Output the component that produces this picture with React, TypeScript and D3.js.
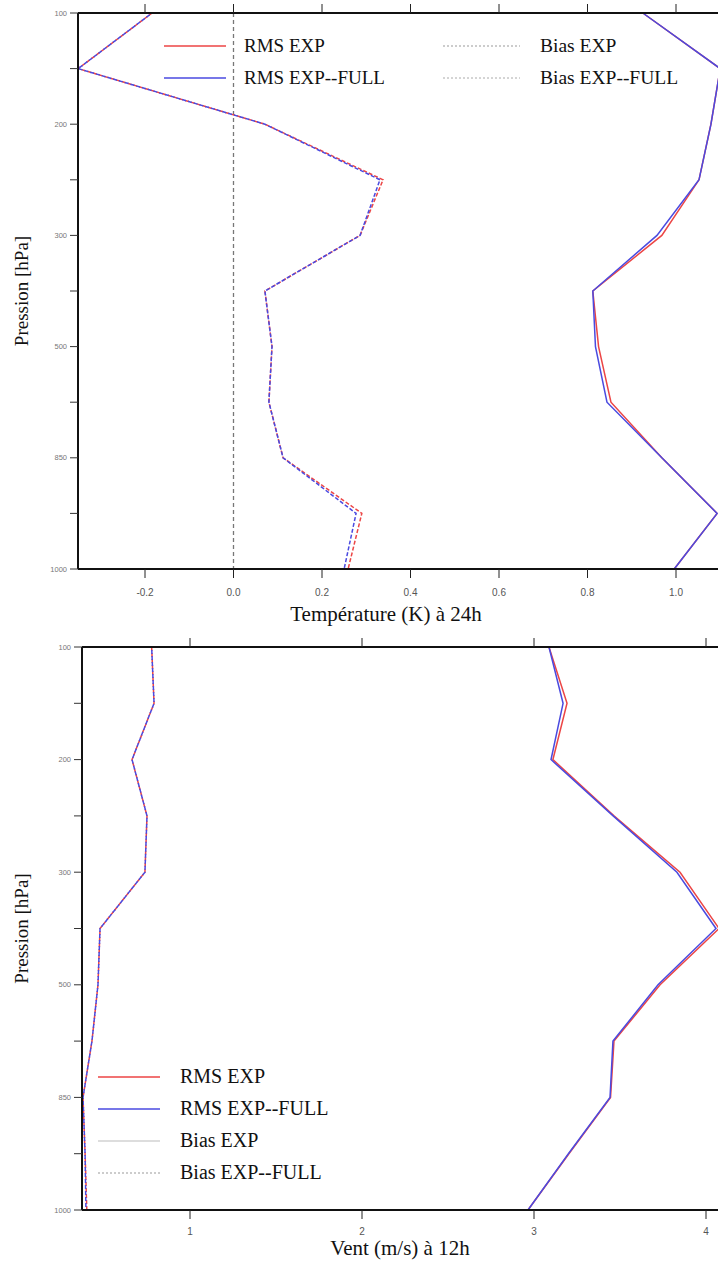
import React from "react";
import * as d3 from "d3";

const levels = [100, 150, 200, 250, 300, 400, 500, 700, 850, 925, 1000];
const levelLabels = ["100", "", "200", "", "300", "", "500", "", "850", "", "1000"];

// Temperature (K) at 24h
const tBiasExp = [-0.184, -0.351, 0.071, 0.338, 0.286, 0.071, 0.087, 0.08, 0.112, 0.29, 0.259];
const tBiasFull = [-0.184, -0.351, 0.071, 0.331, 0.286, 0.071, 0.087, 0.08, 0.112, 0.277, 0.25];
const tRmsExp = [0.925, 1.1, 1.079, 1.052, 0.968, 0.812, 0.825, 0.853, 0.968, 1.093, 0.996];
const tRmsFull = [0.925, 1.1, 1.079, 1.052, 0.957, 0.812, 0.818, 0.844, 0.968, 1.093, 0.996];
const tTicks = [-0.2, 0.0, 0.2, 0.4, 0.6, 0.8, 1.0];

// Wind (m/s) at 12h
const wBiasExp = [0.777, 0.791, 0.663, 0.75, 0.738, 0.477, 0.465, 0.43, 0.378, 0.39, 0.4];
const wBiasFull = [0.777, 0.791, 0.663, 0.75, 0.738, 0.477, 0.465, 0.43, 0.378, 0.39, 0.395];
const wRmsExp = [3.087, 3.192, 3.11, 3.465, 3.849, 4.076, 3.733, 3.465, 3.445, 3.203, 2.965];
const wRmsFull = [3.087, 3.169, 3.099, 3.46, 3.831, 4.058, 3.721, 3.459, 3.442, 3.2, 2.965];
const wTicks = [1, 2, 3, 4];

const RED = "#ec4545";
const BLUE = "#4a4ae0";
const SERIF = "'Liberation Serif', 'Times New Roman', serif";
const SANS = "'Liberation Sans', Arial, sans-serif";

type PanelProps = {
  top: number;
  bottom: number;
  left: number;
  right: number;
  xDomain: [number, number];
  xRange: [number, number];
  ticks: number[];
  tickFmt: (v: number) => string;
  biasExp: number[];
  biasFull: number[];
  rmsExp: number[];
  rmsFull: number[];
  xTitle: string;
  xTitleX: number;
  xTitleDy: number;
  tickDy: number;
  zeroLine: boolean;
  legend: React.ReactNode;
};

function Panel(p: PanelProps) {
  const x = d3.scaleLinear().domain(p.xDomain).range(p.xRange);
  const y = d3.scalePoint<number>().domain(levels).range([p.top, p.bottom]);
  const line = (vals: number[]) =>
    d3.line<number>().x((v) => x(v)).y((_, i) => y(levels[i]) as number)(vals) || "";
  const clipId = `clip${p.top}`;
  return (
    <g>
      <defs>
        <clipPath id={clipId}>
          <rect x={p.left} y={p.top - 2} width={p.right - p.left + 20} height={p.bottom - p.top + 4} />
        </clipPath>
      </defs>
      {p.zeroLine && (
        <line x1={x(0)} x2={x(0)} y1={p.top} y2={p.bottom} stroke="#777" strokeWidth={1.3} strokeDasharray="4,3" />
      )}
      <g clipPath={`url(#${clipId})`} fill="none" strokeWidth={1.5}>
        <path d={line(p.biasExp)} stroke={RED} strokeDasharray="4,2" />
        <path d={line(p.biasFull)} stroke={BLUE} strokeDasharray="4,2" strokeDashoffset={3} />
        <path d={line(p.rmsExp)} stroke={RED} />
        <path d={line(p.rmsFull)} stroke={BLUE} />
      </g>
      {/* frame */}
      <line x1={p.left} x2={p.right} y1={p.top} y2={p.top} stroke="#111" strokeWidth={2} />
      <line x1={p.left} x2={p.right} y1={p.bottom} y2={p.bottom} stroke="#111" strokeWidth={2} />
      <line x1={p.left} x2={p.left} y1={p.top} y2={p.bottom} stroke="#111" strokeWidth={2} />
      {/* x ticks */}
      {p.ticks.map((t) => (
        <g key={t}>
          <line x1={x(t)} x2={x(t)} y1={p.top} y2={p.top - 9} stroke="#222" strokeWidth={1} />
          <line x1={x(t)} x2={x(t)} y1={p.bottom} y2={p.bottom + 9} stroke="#222" strokeWidth={1} />
          <text x={x(t)} y={p.bottom + p.tickDy} textAnchor="middle" fontFamily={SANS} fontSize={10} fill="#555">
            {p.tickFmt(t)}
          </text>
        </g>
      ))}
      {/* y ticks */}
      {levels.map((l, i) => (
        <g key={l}>
          <line x1={p.left} x2={p.left - 8} y1={y(l)} y2={y(l)} stroke="#333" strokeWidth={1} />
          {levelLabels[i] && (
            <text x={p.left - 11} y={(y(l) as number) + 2.5} textAnchor="end" fontFamily={SANS} fontSize={7.5} fill="#777">
              {levelLabels[i]}
            </text>
          )}
        </g>
      ))}
      <text
        transform={`translate(28,${(p.top + p.bottom) / 2}) rotate(-90)`}
        textAnchor="middle"
        fontFamily={SERIF}
        fontSize={19}
        fill="#111"
      >
        Pression [hPa]
      </text>
      <text x={p.xTitleX} y={p.bottom + p.xTitleDy} textAnchor="middle" fontFamily={SERIF} fontSize={21} fill="#111">
        {p.xTitle}
      </text>
      {p.legend}
    </g>
  );
}

function LegendItem(props: { x1: number; x2: number; tx: number; y: number; stroke: string; dash?: string; label: string; w?: number; fs?: number }) {
  return (
    <g>
      <line x1={props.x1} x2={props.x2} y1={props.y} y2={props.y} stroke={props.stroke} strokeWidth={props.w ?? 1.3} strokeDasharray={props.dash} />
      <text x={props.tx} y={props.y + 6} fontFamily={SERIF} fontSize={props.fs ?? 20} fill="#111">
        {props.label}
      </text>
    </g>
  );
}

export default function App() {
  const topLegend = (
    <g>
      <LegendItem x1={164} x2={226} tx={244} y={46} stroke={RED} label="RMS EXP" fs={19} />
      <LegendItem x1={164} x2={226} tx={244} y={78} stroke={BLUE} label="RMS EXP--FULL" fs={19} />
      <LegendItem x1={443} x2={520} tx={540} y={46} stroke="#999" dash="2,2" w={1} label="Bias EXP" fs={19.5} />
      <LegendItem x1={443} x2={520} tx={540} y={78} stroke="#aaa" dash="2,2" w={1} label="Bias EXP--FULL" fs={19.5} />
    </g>
  );
  const botLegend = (
    <g>
      <LegendItem x1={98} x2={160} tx={180} y={1077} stroke={RED} label="RMS EXP" />
      <LegendItem x1={98} x2={160} tx={180} y={1109} stroke={BLUE} label="RMS EXP--FULL" />
      <LegendItem x1={98} x2={160} tx={180} y={1141} stroke="#bbb" w={1} label="Bias EXP" />
      <LegendItem x1={98} x2={160} tx={180} y={1173} stroke="#999" dash="2,2" w={1} label="Bias EXP--FULL" />
    </g>
  );
  return (
    <svg width={718} height={1261} style={{ position: "absolute", left: 0, top: 0, background: "#fff" }}>
      <rect width={718} height={1261} fill="#fff" />
      <Panel
        top={13}
        bottom={569}
        left={78}
        right={722}
        xDomain={[-0.2, 1.0]}
        xRange={[145, 676]}
        ticks={tTicks}
        tickFmt={(v) => d3.format(".1f")(v).replace("−", "-")}
        biasExp={tBiasExp}
        biasFull={tBiasFull}
        rmsExp={tRmsExp}
        rmsFull={tRmsFull}
        xTitle="Température (K) à 24h"
        xTitleX={386}
        xTitleDy={52}
        tickDy={27}
        zeroLine={true}
        legend={topLegend}
      />
      <Panel
        top={647}
        bottom={1210}
        left={82}
        right={722}
        xDomain={[1, 4]}
        xRange={[190, 706]}
        ticks={wTicks}
        tickFmt={(v) => String(v)}
        biasExp={wBiasExp}
        biasFull={wBiasFull}
        rmsExp={wRmsExp}
        rmsFull={wRmsFull}
        xTitle="Vent (m/s) à 12h"
        xTitleX={400}
        xTitleDy={45}
        tickDy={25}
        zeroLine={false}
        legend={botLegend}
      />
    </svg>
  );
}
